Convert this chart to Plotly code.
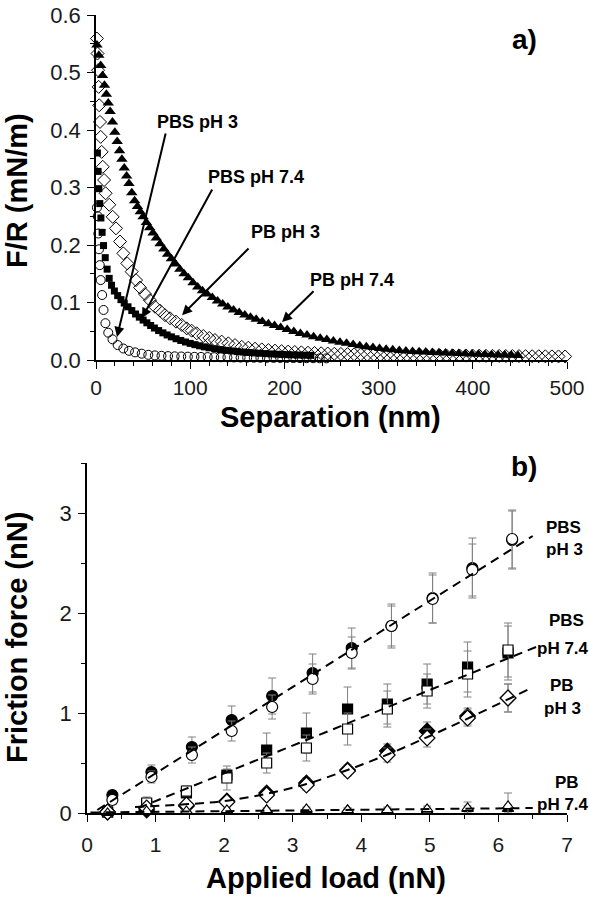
import plotly.graph_objects as go

# ---------------- Panel a) data : F/R (mN/m) vs separation (nm) ----------------
sep_pb74 = [1.0, 3.0, 5.0, 7.0, 9.0, 11.0, 13.0, 15.0, 17.5, 20.0, 22.5, 25.0, 27.5, 30.0, 32.5, 35.0,
            38.0, 41.0, 44.0, 47.0, 50.0, 53.5, 57.0, 60.5, 64.0, 68.0, 72.0, 76.0, 80.0, 84.5, 89.0,
            93.5, 98.0, 103.0, 108.0, 113.0, 118.0, 123.5, 129.0, 134.5, 140.0, 146.0, 152.0, 158.0,
            164.0, 170.0, 176.5, 183.0, 189.5, 196.0, 203.0, 210.0, 217.0, 224.0, 231.0, 238.0, 245.0,
            252.0, 259.0, 266.0, 273.0, 280.0, 287.0, 294.0, 301.0, 308.0, 315.0, 322.0, 329.0, 336.0,
            343.0, 350.0, 357.0, 364.0, 371.0, 378.0, 385.0, 392.0, 399.0, 406.0, 413.0, 420.0, 427.0,
            434.0, 441.0, 448.0]
fr_pb74 = [0.548, 0.530, 0.512, 0.495, 0.478, 0.462, 0.447, 0.432, 0.414, 0.396, 0.380, 0.364, 0.349,
           0.334, 0.320, 0.307, 0.291, 0.277, 0.267, 0.258, 0.249, 0.239, 0.230, 0.221, 0.212, 0.202,
           0.193, 0.184, 0.176, 0.167, 0.158, 0.150, 0.143, 0.1345, 0.127, 0.1204, 0.1146, 0.1085,
           0.1028, 0.0974, 0.0923, 0.0870, 0.0826, 0.0784, 0.0745, 0.0707, 0.0669, 0.0632, 0.0598,
           0.0565, 0.0530, 0.0496, 0.0463, 0.0433, 0.0405, 0.0379, 0.0355, 0.0332, 0.0310, 0.0290,
           0.0270, 0.0250, 0.0232, 0.0216, 0.0200, 0.0188, 0.0177, 0.0166, 0.0156, 0.0147, 0.0142,
           0.0137, 0.0132, 0.0126, 0.0121, 0.0117, 0.0112, 0.0108, 0.0105, 0.0101, 0.0097, 0.0093,
           0.0089, 0.0085, 0.0081, 0.0078]

sep_pb3 = [1.0, 1.6, 2.2, 2.8, 3.4, 4.2, 5.0, 6.0, 7.2, 8.6, 10.2, 14.1, 17.7, 21.2, 25.5, 29.0, 33.2,
           37.9, 42.5, 46.7, 52.0, 57.3, 62.6, 67.9, 73.2, 78.6, 84.9, 91.0, 96.3, 101.6, 106.9, 113.9,
           120.3, 126.3, 133.4, 140.5, 147.6, 154.7, 161.7, 168.8, 176.0, 183.0, 190.0, 197.0, 204.0,
           211.0, 218.0, 225.0, 232.0, 239.0, 246.0, 253.0, 260.0, 267.0, 274.0, 281.0, 288.0, 295.0,
           302.0, 309.0, 316.0, 323.0, 330.0, 337.0, 344.0, 351.0, 358.0, 365.0, 372.0, 379.0, 386.0,
           393.0, 400.0, 407.0, 414.0, 421.0, 428.0, 435.0, 442.0, 449.0, 456.0, 463.0, 470.0, 477.0,
           484.0, 491.0, 498.0]
fr_pb3 = [0.559, 0.533, 0.504, 0.475, 0.443, 0.414, 0.388, 0.362, 0.336, 0.313, 0.290, 0.270, 0.249,
          0.229, 0.206, 0.1855, 0.168, 0.1536, 0.139, 0.126, 0.1148, 0.104, 0.0927, 0.0858, 0.078,
          0.0725, 0.0667, 0.061, 0.055, 0.051, 0.0464, 0.0417, 0.0383, 0.0348, 0.032, 0.029, 0.026,
          0.023, 0.0214, 0.0197, 0.0185, 0.0173, 0.0163, 0.0154, 0.0146, 0.0139, 0.0133, 0.0127,
          0.0122, 0.0117, 0.0113, 0.0109, 0.0105, 0.0102, 0.0099, 0.0096, 0.0093, 0.0091, 0.0089,
          0.0088, 0.0087, 0.0086, 0.0085, 0.0084, 0.0083, 0.0082, 0.0081, 0.0080, 0.0079, 0.0078,
          0.0077, 0.0076, 0.0075, 0.0074, 0.0073, 0.0072, 0.0071, 0.0070, 0.0069, 0.0068, 0.0067,
          0.0066, 0.0065, 0.0064, 0.0063, 0.0062, 0.0061]

sep_pbs74 = [1.5, 2.2, 3.0, 4.0, 5.2, 6.5, 8.0, 9.8, 11.8, 14.0, 16.5, 19.5, 23.0, 26.5, 30.0, 34.0,
             38.0, 42.0, 46.0, 50.0, 54.0, 58.0, 62.0, 66.5, 71.0, 75.5, 80.0, 85.0, 90.0, 95.0, 100.0,
             105.0, 110.0, 115.0, 120.0, 126.0, 132.0, 138.0, 144.0, 150.0, 156.0, 162.0, 168.0, 174.0,
             180.0, 186.0, 192.0, 198.0, 204.0, 210.0, 216.0, 222.0, 228.0]
fr_pbs74 = [0.360, 0.328, 0.298, 0.272, 0.247, 0.222, 0.199, 0.178, 0.158, 0.142, 0.130, 0.120, 0.112,
            0.105, 0.099, 0.0925, 0.0860, 0.0800, 0.0745, 0.0695, 0.0647, 0.0600, 0.0556, 0.0512,
            0.0472, 0.0436, 0.0403, 0.0370, 0.0340, 0.0313, 0.0289, 0.0267, 0.0247, 0.0229, 0.0213,
            0.0196, 0.0181, 0.0168, 0.0157, 0.0147, 0.0138, 0.0130, 0.0123, 0.0117, 0.0111, 0.0106,
            0.0101, 0.0097, 0.0093, 0.0090, 0.0087, 0.0084, 0.0081]

sep_pbs3 = [1.0, 1.8, 2.5, 3.2, 4.0, 5.0, 6.5, 8.0, 10.0, 13.0, 17.5, 23.0, 29.0, 35.0, 41.5, 48.5, 55.5,
            62.5, 69.5, 76.5, 83.5, 90.5, 97.5, 104.5, 111.5, 118.5, 125.5, 132.5, 139.5, 146.5, 153.5,
            160.5, 167.5, 174.5, 181.5, 188.5, 195.5, 202.5, 209.5, 216.5, 223.5, 230.5, 237.5, 244.5]
fr_pbs3 = [0.265, 0.250, 0.220, 0.1925, 0.165, 0.139, 0.113, 0.087, 0.064, 0.0475, 0.036, 0.026, 0.020,
           0.016, 0.0133, 0.011, 0.009, 0.008, 0.0073, 0.0068, 0.0064, 0.0061, 0.0058, 0.0055, 0.0053,
           0.0051, 0.0049, 0.0047, 0.0045, 0.0044, 0.0042, 0.0041, 0.0040, 0.0039, 0.0038, 0.0037,
           0.0036, 0.0035, 0.0034, 0.0033, 0.0032, 0.0031, 0.0030, 0.0029]

labels_a = ["PBS pH 3", "PBS pH 7.4", "PB pH 3", "PB pH 7.4"]
# arrow tail (label end) and head positions in data units
arrow_tail_x = [74.3, 124.2, 163.5, 232.5]
arrow_tail_y = [0.3965, 0.299, 0.1965, 0.122]
arrow_head_x = [22.3, 48.8, 91.3, 197.5]
arrow_head_y = [0.040, 0.073, 0.078, 0.066]

# ---------------- Panel b) data : friction force vs applied load ----------------
load_c = [0.37, 0.94, 1.53, 2.11, 2.70, 3.29, 3.86, 4.44, 5.04, 5.62, 6.20]
load_s = [0.30, 0.87, 1.45, 2.04, 2.62, 3.20, 3.80, 4.38, 4.96, 5.55, 6.14]

f_pbs3_fill = [0.18, 0.41, 0.66, 0.93, 1.17, 1.40, 1.65, 1.87, 2.15, 2.45, 2.73]
e_pbs3_fill = [0.04, 0.07, 0.10, 0.14, 0.18, 0.19, 0.20, 0.22, 0.25, 0.30, 0.29]
f_pbs3_open = [0.13, 0.36, 0.58, 0.82, 1.06, 1.34, 1.60, 1.87, 2.14, 2.43, 2.74]
e_pbs3_open = [0.04, 0.06, 0.08, 0.10, 0.12, 0.15, 0.16, 0.20, 0.24, 0.26, 0.29]

f_pbs74_fill = [0.01, 0.08, 0.20, 0.38, 0.63, 0.80, 1.04, 1.09, 1.29, 1.46, 1.60]
e_pbs74_fill = [0.01, 0.03, 0.04, 0.06, 0.17, 0.20, 0.22, 0.20, 0.20, 0.25, 0.27]
f_pbs74_open = [0.01, 0.10, 0.22, 0.35, 0.50, 0.65, 0.84, 1.04, 1.22, 1.39, 1.63]
e_pbs74_open = [0.01, 0.06, 0.05, 0.12, 0.10, 0.13, 0.16, 0.18, 0.17, 0.23, 0.27]

f_pb3_fill = [0.01, 0.03, 0.07, 0.12, 0.20, 0.30, 0.43, 0.62, 0.82, 0.97, 1.15]
e_pb3_fill = [0.01, 0.02, 0.03, 0.03, 0.04, 0.05, 0.05, 0.07, 0.09, 0.08, 0.14]
f_pb3_open = [0.01, 0.05, 0.08, 0.11, 0.18, 0.28, 0.42, 0.58, 0.75, 0.95, 1.15]
e_pb3_open = [0.01, 0.02, 0.03, 0.03, 0.04, 0.05, 0.05, 0.07, 0.09, 0.08, 0.14]

f_pb74_fill = [0.00, 0.01, 0.02, 0.02, 0.03, 0.03, 0.03, 0.03, 0.03, 0.04, 0.04]
e_pb74_fill = [0.01, 0.01, 0.01, 0.01, 0.02, 0.02, 0.02, 0.02, 0.02, 0.03, 0.04]
f_pb74_open = [0.00, 0.02, 0.02, 0.03, 0.03, 0.04, 0.03, 0.03, 0.04, 0.05, 0.07]
e_pb74_open = [0.01, 0.01, 0.01, 0.02, 0.02, 0.02, 0.02, 0.03, 0.03, 0.06, 0.13]

# dashed fit lines
fit_pbs3_x = [0.15, 6.50]
fit_pbs3_y = [0.03, 2.77]
fit_pbs74_x = [0.75, 6.55]
fit_pbs74_y = [0.05, 1.66]
fit_pb3_x = [0.70, 1.5, 2.0, 2.6, 3.2, 3.8, 4.4, 5.0, 5.6, 6.45]
fit_pb3_y = [0.06, 0.09, 0.12, 0.19, 0.29, 0.43, 0.59, 0.77, 0.96, 1.24]
fit_pb74_x = [0.05, 6.50]
fit_pb74_y = [0.005, 0.05]

labels_b = [("PBS", 544, 527), ("pH 3", 544, 549), ("PBS", 547, 620), ("pH 7.4", 535, 648),
            ("PB", 548, 685), ("pH 3", 542, 708), ("PB", 553, 782), ("pH 7.4", 535, 804)]

# ---------------- figure ----------------
W, H = 589, 900
FONT = "Liberation Sans, Arial, Helvetica, sans-serif"
fig = go.Figure()

def px2paper(x, y):
    return x / W, 1 - y / H

# panel a traces
fig.add_trace(go.Scatter(x=sep_pbs3, y=fr_pbs3, mode="markers", xaxis="x", yaxis="y", cliponaxis=False,
                         marker=dict(symbol="circle-open", size=9, color="black", line=dict(width=1))))
fig.add_trace(go.Scatter(x=sep_pb3, y=fr_pb3, mode="markers", xaxis="x", yaxis="y", cliponaxis=False,
                         marker=dict(symbol="diamond-open", size=10, color="black", line=dict(width=1))))
fig.add_trace(go.Scatter(x=sep_pbs74, y=fr_pbs74, mode="markers", xaxis="x", yaxis="y", cliponaxis=False,
                         marker=dict(symbol="square", size=7, color="black")))
fig.add_trace(go.Scatter(x=sep_pb74, y=fr_pb74, mode="markers", xaxis="x", yaxis="y", cliponaxis=False,
                         marker=dict(symbol="triangle-up", size=10, color="black")))

# panel b traces
EB = dict(type="data", color="#808080", thickness=1, width=4)
def add_b(x, y, e, symbol, size, filled):
    fig.add_trace(go.Scatter(
        x=x, y=y, mode="markers", xaxis="x2", yaxis="y2", cliponaxis=False,
        error_y=dict(array=e, **EB),
        marker=dict(symbol=symbol, size=size, color="black" if filled else "white",
                    line=dict(width=1.2, color="black"))))

add_b(load_c, f_pbs3_fill, e_pbs3_fill, "circle", 11, True)
add_b(load_s, f_pbs74_fill, e_pbs74_fill, "square", 10, True)
add_b(load_s, f_pb3_fill, e_pb3_fill, "diamond", 12, True)
add_b(load_s, f_pb74_fill, e_pb74_fill, "triangle-up", 10, True)
add_b(load_c, f_pbs3_open, e_pbs3_open, "circle", 11, False)
add_b(load_s, f_pbs74_open, e_pbs74_open, "square", 10, False)
add_b(load_s, f_pb3_open, e_pb3_open, "diamond", 12, False)
add_b(load_s, f_pb74_open, e_pb74_open, "triangle-up", 10, False)

for fx, fy in [(fit_pbs3_x, fit_pbs3_y), (fit_pbs74_x, fit_pbs74_y),
               (fit_pb3_x, fit_pb3_y), (fit_pb74_x, fit_pb74_y)]:
    fig.add_trace(go.Scatter(x=fx, y=fy, mode="lines", xaxis="x2", yaxis="y2", cliponaxis=False,
                             line=dict(color="black", width=2, dash="9px,6px", shape="spline")))

ann = []
# arrows + labels (panel a)
label_px = [(197, 122), (256, 177), (285, 232), (352, 280)]
for i, lab in enumerate(labels_a):
    ann.append(dict(x=arrow_head_x[i], y=arrow_head_y[i], xref="x", yref="y",
                    ax=arrow_tail_x[i], ay=arrow_tail_y[i], axref="x", ayref="y",
                    text="", showarrow=True, arrowhead=2, arrowsize=1, arrowwidth=2,
                    arrowcolor="black", standoff=0, startstandoff=0))
    lx, ly = px2paper(*label_px[i])
    ann.append(dict(x=lx, y=ly, xref="paper", yref="paper", text=f"<b>{lab}</b>", showarrow=False,
                    font=dict(family=FONT, size=18, color="black"), xanchor="center", yanchor="middle"))

for txt, lx, ly in labels_b:
    px_, py_ = px2paper(lx, ly)
    ann.append(dict(x=px_, y=py_, xref="paper", yref="paper", text=f"<b>{txt}</b>", showarrow=False,
                    font=dict(family=FONT, size=17, color="black"), xanchor="left", yanchor="middle"))

# panel letters
for txt, lx, ly in [("a)", 524, 40), ("b)", 524, 466)]:
    px_, py_ = px2paper(lx, ly)
    ann.append(dict(x=px_, y=py_, xref="paper", yref="paper", text=f"<b>{txt}</b>", showarrow=False,
                    font=dict(family=FONT, size=28, color="black"), xanchor="center", yanchor="middle"))

# axis titles
for txt, lx, ly, ang in [("F/R (mN/m)", 17, 191, -90), ("Separation (nm)", 330, 417, 0),
                         ("Friction force (nN)", 17, 638, -90), ("Applied load (nN)", 326, 878, 0)]:
    px_, py_ = px2paper(lx, ly)
    ann.append(dict(x=px_, y=py_, xref="paper", yref="paper", text=f"<b>{txt}</b>", showarrow=False,
                    textangle=ang, font=dict(family=FONT, size=29, color="black"),
                    xanchor="center", yanchor="middle"))

tickfont = dict(family=FONT, size=22, color="#1a1a1a")
xtickfont = dict(family=FONT, size=21, color="#1a1a1a")
common = dict(showline=True, linecolor="black", linewidth=1.6, ticks="outside", tickcolor="black",
              tickwidth=1.4, ticklen=7, showgrid=False, zeroline=False, automargin=False)

fig.update_layout(
    width=W, height=H, margin=dict(l=0, r=0, t=0, b=0, autoexpand=False),
    paper_bgcolor="white", plot_bgcolor="white", showlegend=False,
    annotations=ann,
    xaxis=dict(domain=[96 / W, 567 / W], range=[0, 500], dtick=100, anchor="y", tickfont=xtickfont,
               ticklabelstandoff=1,
               minor=dict(dtick=20, ticks="outside", ticklen=4, tickcolor="black", tickwidth=1.2),
               **common),
    yaxis=dict(domain=[1 - 360 / H, 1 - 15 / H], range=[0, 0.6], dtick=0.1, tickformat=".1f",
               anchor="x", ticklabelstandoff=2, tickfont=tickfont,
               minor=dict(dtick=0.05, ticks="outside", ticklen=4, tickcolor="black", tickwidth=1.2),
               **common),
    xaxis2=dict(domain=[87 / W, 567 / W], range=[0, 7], dtick=1, anchor="y2", ticklabelstandoff=5,
                tickfont=xtickfont,
                minor=dict(dtick=0.5, ticks="outside", ticklen=4, tickcolor="black", tickwidth=1.2),
                **common),
    yaxis2=dict(domain=[1 - 813 / H, 1 - 463 / H], range=[0, 3.5], dtick=1, anchor="x2",
                ticklabelstandoff=2, tickfont=tickfont,
                minor=dict(dtick=0.5, ticks="outside", ticklen=4, tickcolor="black", tickwidth=1.2),
                **common),
)

fig.write_html("out.html", config={"displayModeBar": False},
               post_script="document.body.style.margin='0px';")
